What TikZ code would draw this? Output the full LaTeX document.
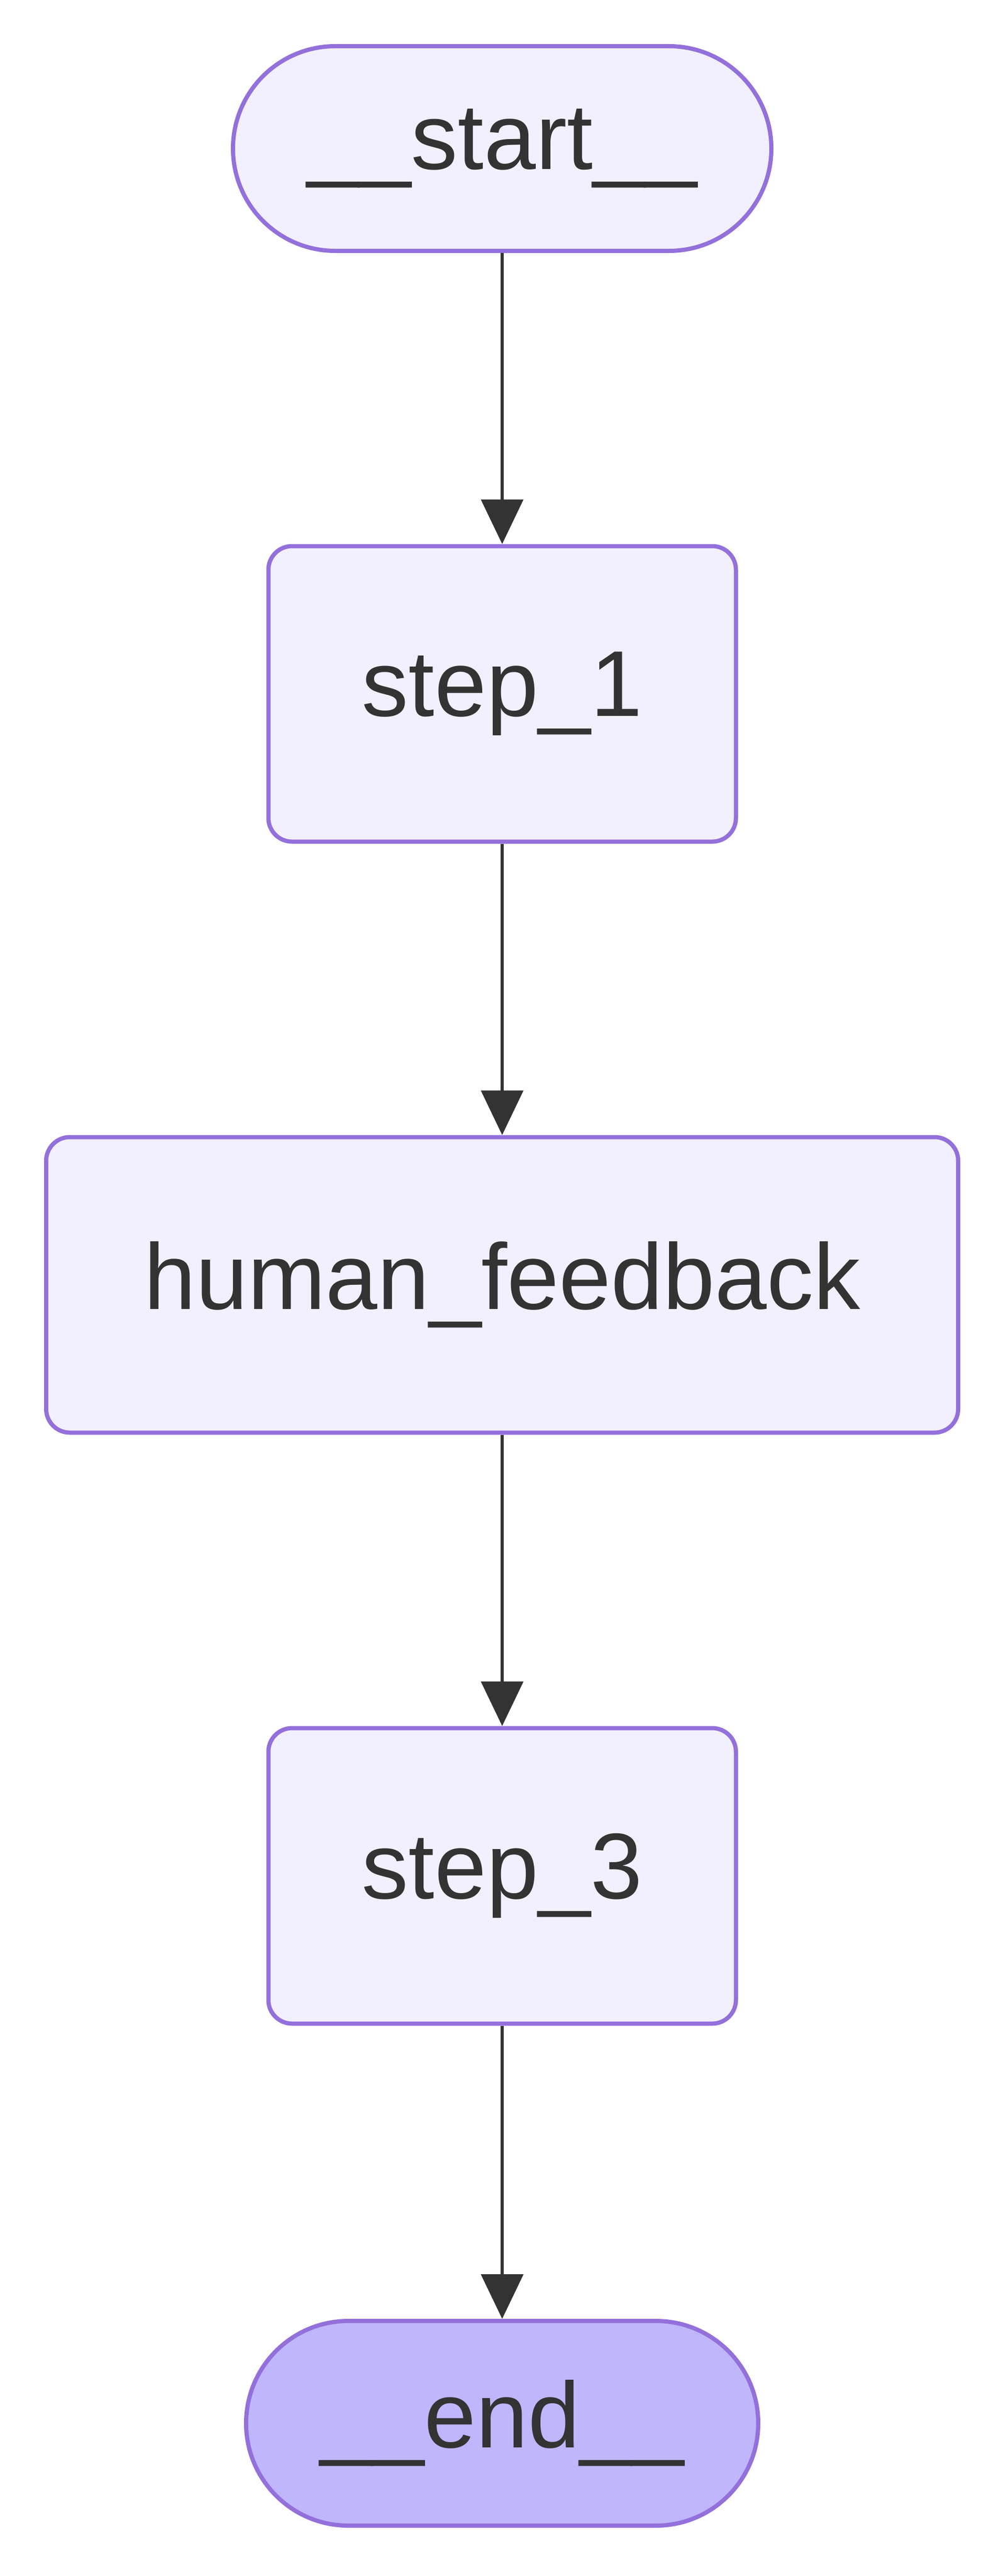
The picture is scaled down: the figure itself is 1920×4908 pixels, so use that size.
\documentclass[tikz,border=0pt]{standalone}
\usepackage{fontspec}
\setmainfont{Liberation Sans}
\usetikzlibrary{arrows.meta}
\definecolor{bd}{HTML}{9370DB}
\definecolor{fl}{HTML}{F2F0FF}
\definecolor{fe}{HTML}{BFB6FC}
\definecolor{tx}{HTML}{333333}
\begin{document}
\begin{tikzpicture}[x=1pt,y=1pt,
  box/.style={draw=bd,line width=8pt,fill=fl,rounded corners=45pt,minimum height=563pt,text=tx,font=\fontsize{178}{200}\selectfont,inner sep=0pt},
  term/.style={box,rounded corners=195pt,minimum height=390pt},
  arr/.style={draw=tx,line width=6pt,-{Triangle[length=85pt,width=80pt]}}]
\useasboundingbox (0,0) rectangle (1920,-4908);
\fill[white] (0,0) rectangle (1920,-4908);
\node[term,minimum width=1026pt] (s) at (957,-283) {\_\_start\_\_};
\node[box,minimum width=891pt] (a) at (957,-1322) {step\_1};
\node[box,minimum width=1738pt] (h) at (957,-2448) {human\_feedback};
\node[box,minimum width=891pt] (c) at (957,-3574) {step\_3};
\node[term,minimum width=976pt,fill=fe] (e) at (957,-4617) {\_\_end\_\_};
\draw[arr] (s) -- (a);
\draw[arr] (a) -- (h);
\draw[arr] (h) -- (c);
\draw[arr] (c) -- (e);
\end{tikzpicture}
\end{document}
